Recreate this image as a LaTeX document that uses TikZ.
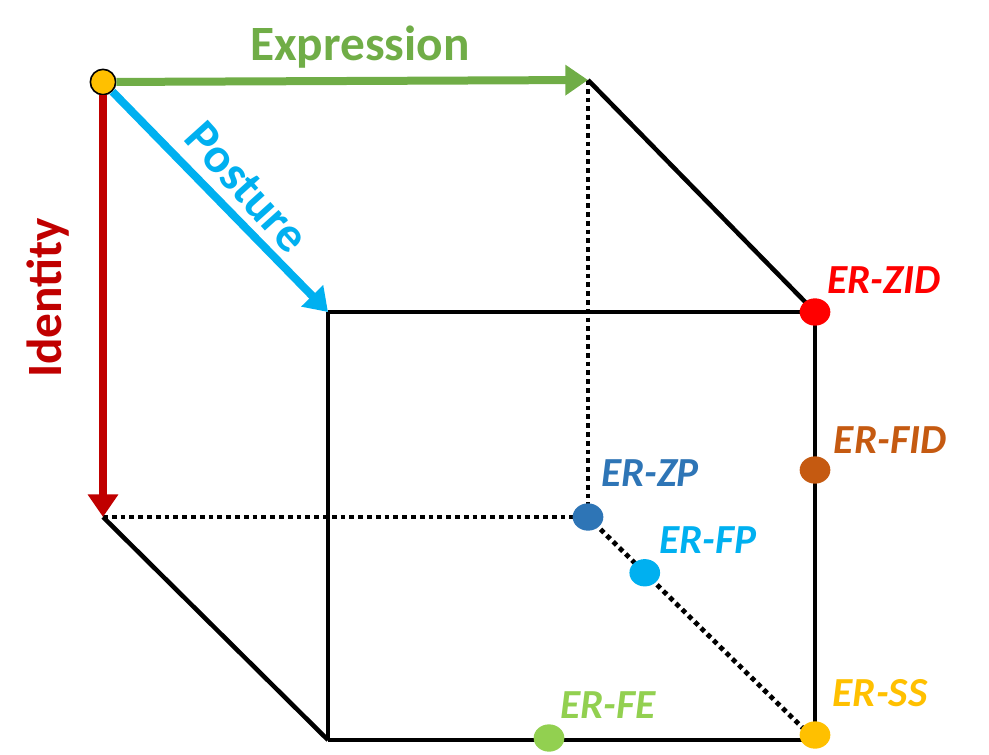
\documentclass[tikz,border=0pt]{standalone}
\usepackage{fontspec}
\setmainfont{Carlito}
\usetikzlibrary{arrows.meta,shapes.geometric,calc}

\definecolor{exprgreen}{HTML}{70AD47}
\definecolor{postblue}{HTML}{00B0F0}
\definecolor{identred}{HTML}{C00000}
\definecolor{zidred}{HTML}{FF0000}
\definecolor{fidbrown}{HTML}{C55A11}
\definecolor{zpblue}{HTML}{2E75B6}
\definecolor{fegreen}{HTML}{92D050}
\definecolor{ssyellow}{HTML}{FFC000}

\begin{document}
\begin{tikzpicture}[x=0.75pt, y=-0.75pt,
    edge/.style={line width=3.4pt, black},
    hidden/.style={line width=3.6pt, black, dash pattern=on 3.6pt off 3pt},
    axis/.style={line width=6pt, draw=#1, -{Triangle[length=17pt,width=22pt]}},
    dot/.style={ellipse, minimum width=23pt, minimum height=20.5pt, inner sep=0pt, fill=#1},
    axlbl/.style={font=\bfseries\fontsize{37}{40}\selectfont, text=#1, inner sep=0pt},
    erlbl/.style={font=\bfseries\itshape\fontsize{31}{34}\selectfont, text=#1, inner sep=0pt}]
  \useasboundingbox (0,0) rectangle (989,754);

  % cube corners
  \coordinate (E) at (588,80);
  \coordinate (I) at (103,517);
  \coordinate (H) at (588,517);
  \coordinate (P) at (328,312);
  \coordinate (Q) at (815,312);
  \coordinate (R) at (815,740);
  \coordinate (S) at (328,740);

  % hidden edges
  \draw[hidden] (E) -- (H);
  \draw[hidden] (I) -- (H);
  \draw[hidden] (H) -- (R);

  % visible edges
  \draw[edge] (E) -- (Q);
  \draw[edge] (P) -- (Q);
  \draw[edge] (Q) -- (R);
  \draw[edge] (S) -- (R);
  \draw[edge] (P) -- (S);
  \draw[edge] (I) -- (S);

  % origin and axes
  \node[circle, minimum size=19pt, inner sep=0pt, fill=ssyellow, draw=black, line width=1.2pt] (org) at (103,82) {};
  \draw[axis=exprgreen] (org) -- (E);
  \draw[axis=postblue] (org) -- (P);
  \draw[axis=identred] (org) -- (I);

  \node[axlbl=exprgreen] (exprlbl) at (360,47) {Expression};
  \node[axlbl=postblue, rotate=-48] (postlbl) at (247,187) {Posture};
  \node[axlbl=identred, rotate=90] (identlbl) at (48,298) {Identity};

  % datasets
  \node[dot=zidred] (zid) at (Q) {};
  \node[dot=fidbrown] (fid) at (815,470) {};
  \node[dot=zpblue] (zp) at (H) {};
  \node[dot=postblue] (fp) at ($(H)!0.25!(R)$) {};
  \node[dot=fegreen] (fe) at (549,738) {};
  \node[dot=ssyellow] (ss) at (815,735) {};

  \node[erlbl=zidred] (zidlbl) at (884,280) {ER-ZID};
  \node[erlbl=fidbrown] (fidlbl) at (890,440) {ER-FID};
  \node[erlbl=zpblue] (zplbl) at (650,473) {ER-ZP};
  \node[erlbl=postblue] (fplbl) at (708,540) {ER-FP};
  \node[erlbl=fegreen] (felbl) at (608,705) {ER-FE};
  \node[erlbl=ssyellow] (sslbl) at (880,693) {ER-SS};
\end{tikzpicture}
\end{document}
